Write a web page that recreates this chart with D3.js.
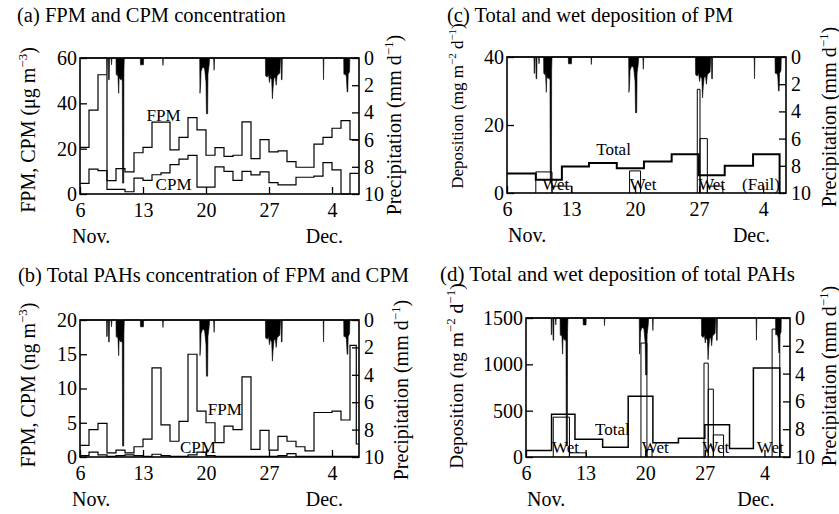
<!DOCTYPE html>
<html><head><meta charset="utf-8">
<script src="https://cdn.jsdelivr.net/npm/d3@7"></script>
<style>
body{margin:0;background:#fff}
svg{display:block}
text{font-family:"Liberation Serif","Times New Roman",serif !important;fill:#000}
</style>
</head><body>
<svg id="chart" width="839" height="514" font-family="Liberation Serif"></svg>
<script>
// ---------------- DATA ----------------
// days counted from 6 Nov (day 0)
const xTickDays = [0, 7, 14, 21, 28];
const xTickLabels = ["6", "13", "20", "27", "4"];
const monthLabels = ["Nov.", "Dec."];
const precipTicks = [0, 2, 4, 6, 8, 10];

// precipitation (mm/d), spiky time series
const precipDay = [0,
  2.95,2.97,3.02,3.05, 3.15,3.18,3.25,3.28, 3.45,3.5,3.55,
  4.0,4.02,4.15,4.2,4.3,4.35,4.5,4.6,4.7,4.73,4.86,4.88,4.92,
  6.7,6.72,7.05,7.07, 9.18,9.22,9.26,
  13.3,13.33,13.4,13.45,13.55,13.6,13.75,13.85,14.0,14.05,14.18,14.22,14.35,14.4, 14.85,14.9,14.95,
  20.6,20.62,20.8,20.95,21.05,21.15,21.3,21.38,21.45,21.55,21.7,21.8,21.9,22.05,22.2,22.28,
  22.35,22.38,22.45,22.48, 27.02,27.06,27.1,
  29.3,29.32,29.5,29.6,29.68,29.75,29.8,29.95,29.98, 31];
const precipMm = [0,
  0,1.2,1.2,0, 0,1.6,1.6,0, 0,0.5,0,
  0,1.2,1.3,1.0,2.6,1.4,1.6,1.5,1.7,9.2,9.2,1.0,0,
  0,0.5,0.5,0, 0,0.55,0,
  0,2.6,2.0,1.0,0.8,0.7,0.7,0.8,1.8,4.1,4.1,1.2,0.5,0, 0,0.9,0,
  0,1.3,1.4,1.2,1.8,1.4,1.6,3.0,2.2,1.5,1.4,2.0,1.3,1.2,1.1,0,
  0,1.6,1.6,0, 0,1.6,0,
  0,1.2,1.2,1.4,2.5,2.5,1.2,1.0,0, 0];

// (a) daily concentration, ug/m3
const fpmConc = [20.6, 37, 52.6, 5.9, 11.2, 9.8, 18.2, 20.6, 31.7, 31.7, 19.5, 25, 33.7, 28.3, 17.1, 20.5,
  16.6, 17.1, 31.8, 15.6, 24, 18.6, 19, 14.3, 11.8, 11.8, 22, 25, 29, 32.4, 24];
const cpmConc = [4.7, 11, 10.3, 2, 2, 1, 7, 6, 8.5, 9.3, 13, 15.4, 17, 3, 3, 12,
  10, 6, 10, 8.4, 9.8, 5, 4, 4, 7.4, 7.4, 7.9, 13.8, 10.6, 0, 9.1];

// (b) total PAHs, ng/m3
const fpmPahStart = [0,1,2,3,4,5,6,7,8,9,10,11,12,13,14,15,16,17,18,19,20,21,22,23,24,25,26,27,28,29,30,30.7];
const fpmPah = [1.7, 4.0, 4.9, 0.6, 1.0, 0.6, 1.5, 2.6, 13.0, 4.7, 2.3, 5.2, 15.0, 6.7, 5.0, 2.1,
  4.5, 4.0, 11.7, 1.1, 3.9, 1.0, 3.0, 2.3, 1.5, 0.9, 6.5, 6.5, 6.7, 5.4, 16.3, 1.9];
const cpmPah = [0.2, 0.7, 0.3, 0.1, 0.2, 0.3, 0.2, 0.1, 0.4, 0.2, 0.1, 0.1, 0.3, 0.7, 0.2, 0.1,
  0.1, 0.1, 0.1, 0.1, 0.1, 0.1, 0.2, 0.5, 0.1, 0.1, 0.1, 0.1, 0.1, 0.1, 0.1];

// (c) PM deposition, mg m-2 d-1
const pmTotalStart = [0, 3.15, 6.0, 8.96, 12.0, 14.97, 18.0, 20.97, 23.8, 26.9];
const pmTotalEnd = 29.8;
const pmTotal = [5.7, 3.9, 7.8, 8.8, 7.3, 9.3, 11.4, 5.2, 8.0, 11.4];
const pmWetStart = [3.15, 4.92, 13.4, 20.8, 21.1, 21.9];
const pmWetEnd   = [4.92, 7.1, 14.6, 21.1, 21.9, 23.6];
const pmWet      = [6.2, 2.0, 6.5, 30.5, 16.0, 2.0];

// (d) total PAHs deposition, ng m-2 d-1
const pahTotalStart = [0, 3.0, 5.75, 9.0, 12.0, 14.9, 17.9, 21.0, 23.9, 26.7];
const pahTotalEnd = 29.8;
const pahTotal = [70, 462, 191, 105, 655, 153, 203, 347, 92, 960];
const pahWetStart = [3.2, 5.1, 13.5, 14.2, 20.9, 21.4, 22.0, 28.9];
const pahWetEnd   = [5.1, 7.1, 14.2, 14.8, 21.4, 22.0, 23.2, 29.8];
const pahWet      = [430, 45, 1230, 80, 1013, 732, 238, 1380];

// ---------------- DRAW ----------------
const svg = d3.select("#chart");
const FS = 20;

function stepPts(starts, values, end) {
  const p = starts.map((s, i) => [s, values[i]]);
  p.push([end, values[values.length - 1]]);
  return p;
}

function rotLabel(g, x, y, parts, fs) {
  const t = g.append("text").attr("transform", `translate(${x},${y}) rotate(-90)`)
    .attr("text-anchor", "middle").style("font-size", fs + "px");
  let sup = false;
  parts.forEach(p => {
    const ts = t.append("tspan").text(p.t);
    if (p.sup) { ts.attr("dy", -fs * 0.4).style("font-size", Math.round(fs * 0.65) + "px"); sup = true; }
    else if (sup) { ts.attr("dy", fs * 0.4); sup = false; }
  });
}

function panel(P) {
  const g = svg.append("g");
  const x = d3.scaleLinear().domain([0, P.xEnd]).range([P.left, P.right]);
  const y = d3.scaleLinear().domain(P.yDomain).range([P.bottom, P.top]);
  const yp = d3.scaleLinear().domain([0, 10]).range([P.top, P.bottom]);

  // precipitation
  const area = d3.area().x(d => x(Math.min(d[0], P.xEnd))).y0(yp(0)).y1(d => yp(d[1]));
  g.append("path").datum(d3.zip(precipDay, precipMm)).attr("d", area)
    .attr("fill", "#000").attr("stroke", "#000").attr("stroke-width", 0.6);

  P.draw(g, x, y);

  // axes
  const ax = d3.axisBottom(x).tickValues(xTickDays).tickFormat((d, i) => xTickLabels[i])
    .tickSizeInner(-7).tickSizeOuter(0).tickPadding(9);
  const gx = g.append("g").attr("transform", `translate(0,${P.bottom})`).call(ax);
  const ay = d3.axisLeft(y).tickValues(P.yTicks).tickFormat(d3.format("d"))
    .tickSizeInner(-7).tickSizeOuter(0).tickPadding(3);
  const gy = g.append("g").attr("transform", `translate(${P.left},0)`).call(ay);
  const ar = d3.axisRight(yp).tickValues(precipTicks).tickFormat(d3.format("d"))
    .tickSizeInner(-7).tickSizeOuter(0).tickPadding(5);
  const gr = g.append("g").attr("transform", `translate(${P.right},0)`).call(ar);
  [gx, gy, gr].forEach(a => {
    a.attr("font-family", null);
    a.select(".domain").remove();
    a.selectAll("line").attr("stroke", "#000").attr("stroke-width", 1.3);
    a.selectAll("text").style("font-size", FS + "px").attr("fill", "#000");
  });

  g.append("rect").attr("x", P.left).attr("y", P.top)
    .attr("width", P.right - P.left).attr("height", P.bottom - P.top)
    .attr("fill", "none").attr("stroke", "#000").attr("stroke-width", 1.6);

  // month labels
  g.append("text").attr("x", x(0) + P.novDx).attr("y", P.bottom + 49).text(monthLabels[0]).style("font-size", FS + "px");
  g.append("text").attr("x", x(28) + P.decDx).attr("y", P.bottom + 49).attr("text-anchor", "end")
    .text(monthLabels[1]).style("font-size", FS + "px");

  // title
  g.append("text").attr("x", P.titleX).attr("y", P.titleY).text(P.title).style("font-size", P.titleFs + "px");

  rotLabel(g, P.ylX, P.ylY, P.yLabel, P.ylFs || FS);
  rotLabel(g, P.yrX, P.yrY, [{t: "Precipitation (mm d"}, {t: "−1", sup: true}, {t: ")"}], FS);

  P.labels.forEach(l => {
    g.append("text").attr("x", x(l.d)).attr("y", y(l.v)).text(l.t).style("font-size", "17px");
  });
}

function stepPath(g, x, y, pts, w) {
  g.append("path").datum(pts)
    .attr("d", d3.line().x(d => x(d[0])).y(d => y(d[1])).curve(d3.curveStepAfter))
    .attr("fill", "none").attr("stroke", "#000").attr("stroke-width", w);
}
function wetPath(g, x, y, s, e, v, w) {
  const p = d3.path();
  s.forEach((st, i) => {
    p.moveTo(x(st), y(0)); p.lineTo(x(st), y(v[i])); p.lineTo(x(e[i]), y(v[i])); p.lineTo(x(e[i]), y(0));
  });
  g.append("path").attr("d", p.toString()).attr("fill", "none").attr("stroke", "#000").attr("stroke-width", w);
}
function totalPath(g, x, y, s, v, end, w) {
  const pts = stepPts(s, v, end);
  pts.push([end, 0]);
  stepPath(g, x, y, pts, w);
}

const daily = d3.range(31);

panel({
  left: 80, right: 359, top: 58, bottom: 194, xEnd: 31, yDomain: [0, 60], yTicks: [0, 20, 40, 60],
  title: "(a) FPM and CPM concentration", titleX: 17, titleY: 22, titleFs: 20.5,
  yLabel: [{t: "FPM, CPM (μg m"}, {t: "−3", sup: true}, {t: ")"}],
  ylX: 35, ylY: 130, yrX: 401, yrY: 125, novDx: -8, decDx: 11,
  labels: [{t: "FPM", d: 7.4, v: 32.2}, {t: "CPM", d: 8.4, v: 1.8}],
  draw: (g, x, y) => {
    stepPath(g, x, y, stepPts(daily, fpmConc, 31), 1.2);
    stepPath(g, x, y, stepPts(daily, cpmConc, 31), 1.2);
  }
});

panel({
  left: 80, right: 359, top: 320, bottom: 457, xEnd: 31, yDomain: [0, 20], yTicks: [0, 5, 10, 15, 20],
  title: "(b) Total PAHs concentration of FPM and CPM", titleX: 18, titleY: 282, titleFs: 20.5,
  yLabel: [{t: "FPM, CPM (ng m"}, {t: "−3", sup: true}, {t: ")"}],
  ylX: 35, ylY: 385, yrX: 408, yrY: 390, novDx: -8, decDx: 11,
  labels: [{t: "FPM", d: 14.2, v: 6.1}, {t: "CPM", d: 11.1, v: 0.6}],
  draw: (g, x, y) => {
    stepPath(g, x, y, stepPts(fpmPahStart, fpmPah, 31), 1.2);
    stepPath(g, x, y, stepPts(daily, cpmPah, 31), 1.2);
  }
});

panel({
  left: 507, right: 786, top: 57, bottom: 193, xEnd: 30.5, yDomain: [0, 40], yTicks: [0, 20, 40],
  title: "(c) Total and wet deposition of PM", titleX: 447, titleY: 22, titleFs: 20.5,
  yLabel: [{t: "Deposition (mg m"}, {t: "−2", sup: true}, {t: " d"}, {t: "−1", sup: true}, {t: ")"}],
  ylFs: 17, ylX: 463, ylY: 106, yrX: 836, yrY: 117, novDx: 1, decDx: 7,
  labels: [{t: "Total", d: 9.75, v: 11.2}, {t: "Wet", d: 3.85, v: 0.9}, {t: "Wet", d: 13.4, v: 0.9},
           {t: "Wet", d: 20.9, v: 0.9}, {t: "(Fail)", d: 25.7, v: 0.9}],
  draw: (g, x, y) => {
    wetPath(g, x, y, pmWetStart, pmWetEnd, pmWet, 1);
    totalPath(g, x, y, pmTotalStart, pmTotal, pmTotalEnd, 2);
  }
});

panel({
  left: 526, right: 790, top: 318, bottom: 457, xEnd: 31, yDomain: [0, 1500], yTicks: [0, 500, 1000, 1500],
  title: "(d) Total and wet deposition of total PAHs", titleX: 440, titleY: 281, titleFs: 21,
  yLabel: [{t: "Deposition (ng m"}, {t: "−2", sup: true}, {t: " d"}, {t: "−1", sup: true}, {t: ")"}],
  ylFs: 19.5, ylX: 463, ylY: 376, yrX: 836, yrY: 376, novDx: 1, decDx: 10,
  labels: [{t: "Total", d: 8.1, v: 238}, {t: "Wet", d: 3.05, v: 40}, {t: "Wet", d: 13.6, v: 40},
           {t: "Wet", d: 20.7, v: 40}, {t: "Wet", d: 27.1, v: 40}],
  draw: (g, x, y) => {
    wetPath(g, x, y, pahWetStart, pahWetEnd, pahWet, 1);
    totalPath(g, x, y, pahTotalStart, pahTotal, pahTotalEnd, 1.5);
  }
});
</script>
</body></html>
